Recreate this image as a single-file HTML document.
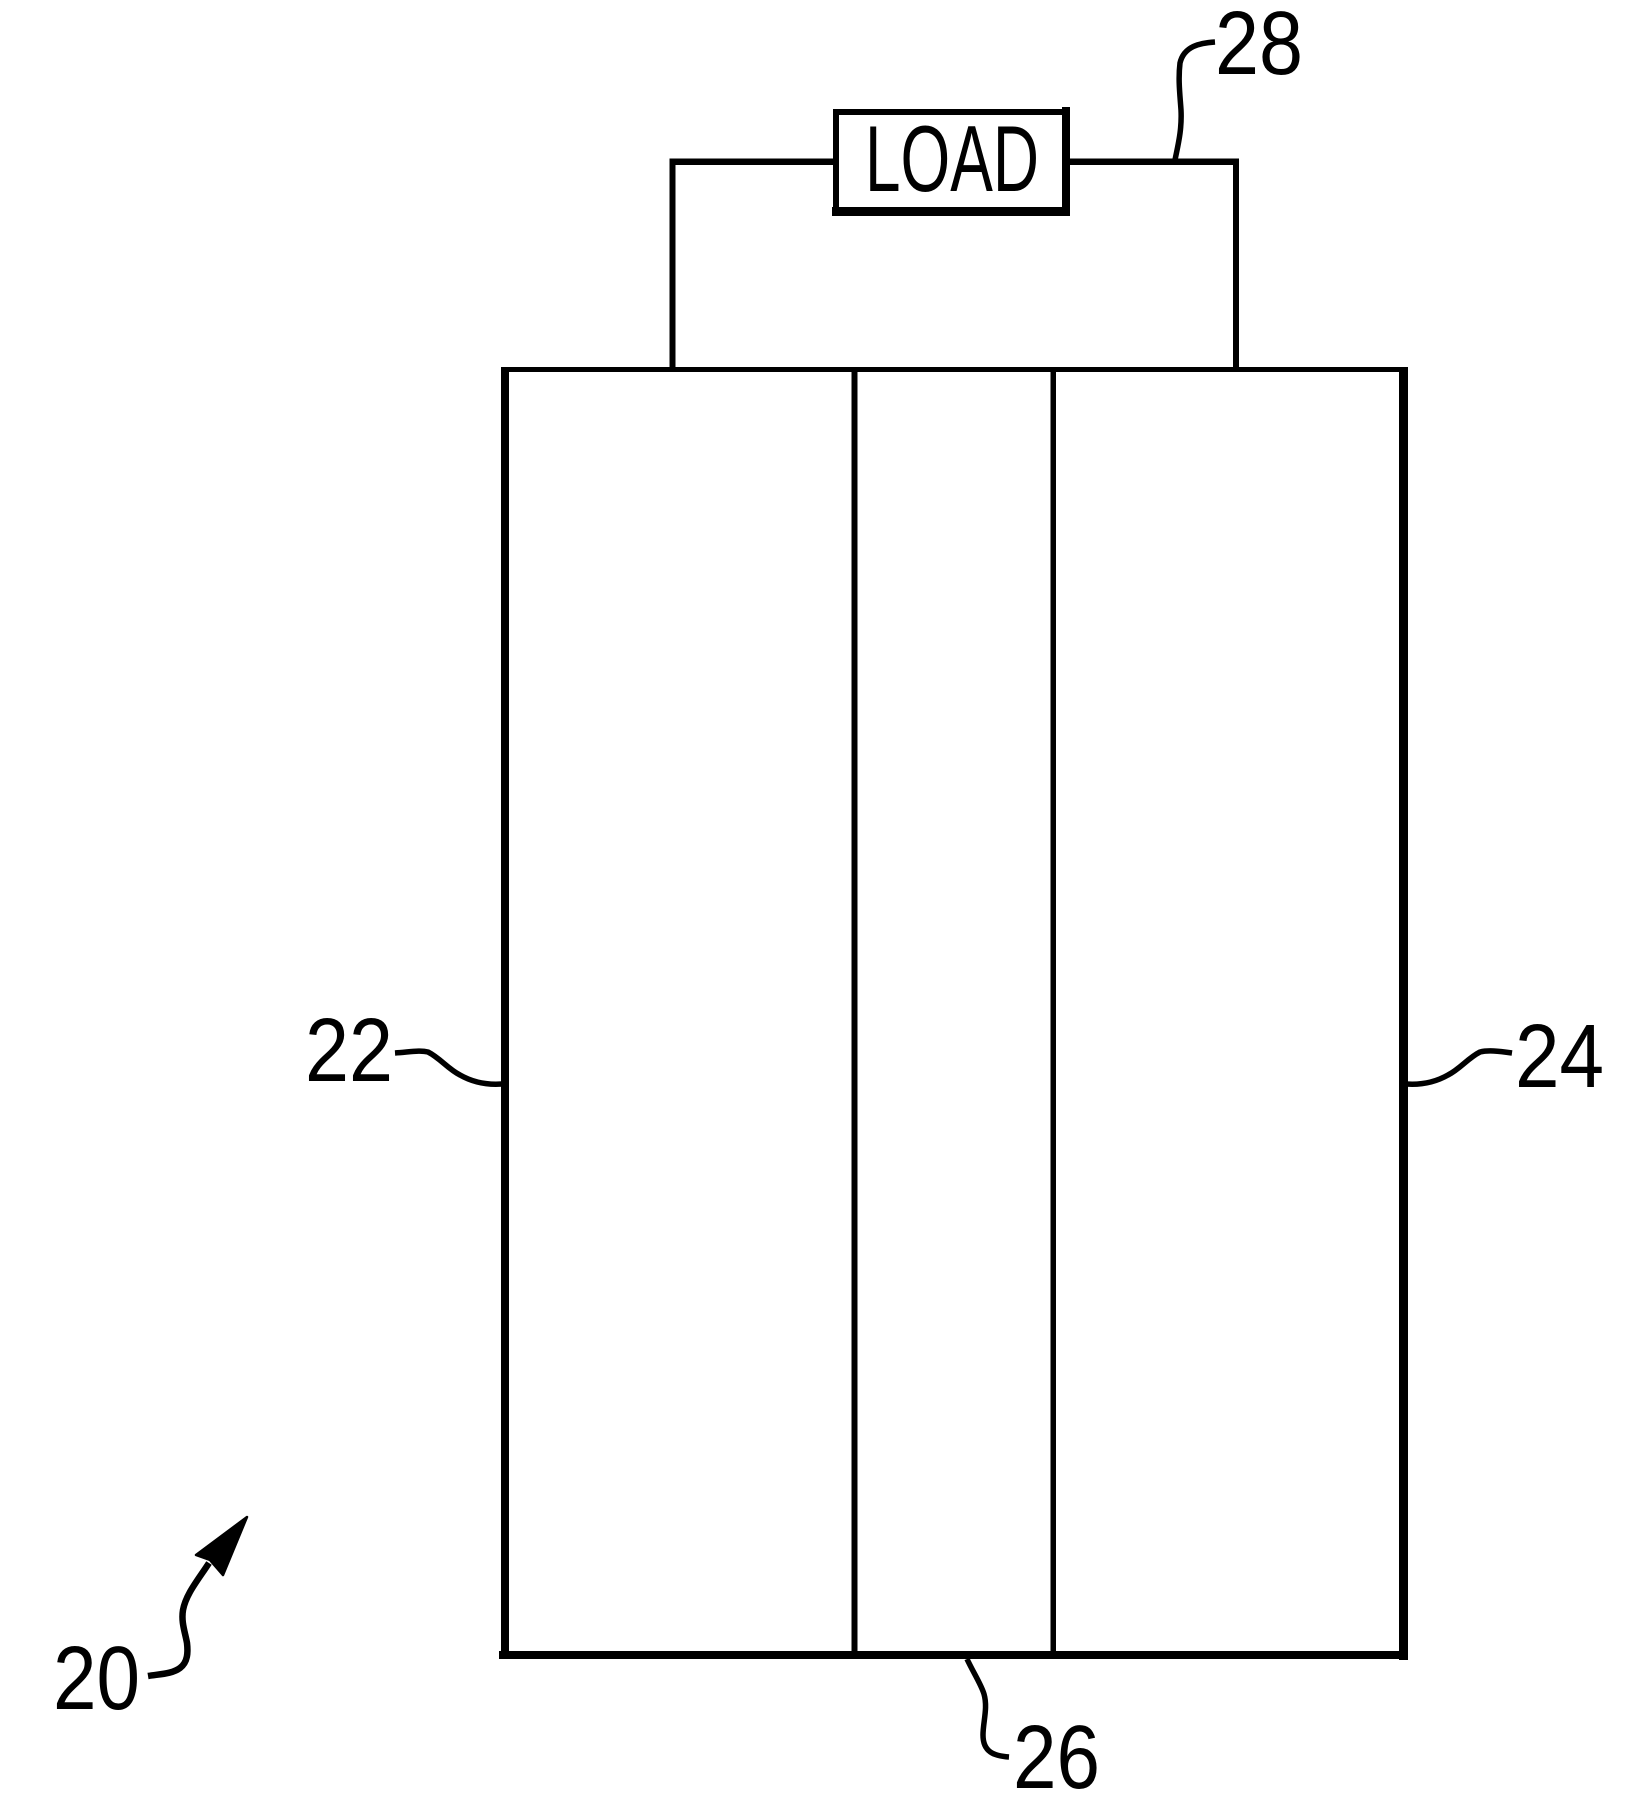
<!DOCTYPE html>
<html><head><meta charset="utf-8"><style>
html,body{margin:0;padding:0;background:#fff}
svg{display:block}
text{font-family:"Liberation Sans",sans-serif;fill:#000}
</style></head><body>
<svg width="1637" height="1795" viewBox="0 0 1637 1795" xmlns="http://www.w3.org/2000/svg">
<rect width="1637" height="1795" fill="#fff"/>
<g fill="#000">
<rect x="501" y="368" width="8" height="1291"/>
<rect x="1399" y="367" width="9" height="1293"/>
<rect x="501" y="367" width="907" height="5"/>
<rect x="499" y="1651" width="909" height="8"/>
<rect x="851.500" y="370" width="6" height="1283"/>
<rect x="1050.500" y="370" width="5.500" height="1283"/>
<rect x="669.500" y="158.500" width="6" height="212"/>
<rect x="1233" y="158.500" width="6" height="212"/>
<rect x="669.500" y="158.500" width="165" height="6.500"/>
<rect x="1067" y="158.500" width="172" height="6.500"/>
<rect x="833" y="109" width="6" height="106"/>
<rect x="1062" y="107" width="8" height="109"/>
<rect x="833" y="109" width="235" height="6"/>
<rect x="832" y="207" width="238" height="9"/>
<path d="M247 1517 L196 1555 L210 1560 L223 1575 Z" stroke="#000" stroke-width="2.500" stroke-linejoin="round"/>
</g>
<g fill="none" stroke="#000" stroke-width="5.500" stroke-linecap="butt" stroke-linejoin="round">
<path d="M1215 42 C1200 43 1184 46 1180 63 C1178 80 1180 95 1181 110 C1182 130 1178 145 1175 160"/>
<path d="M395 1053 C410 1052 420 1050 428 1052 C440 1058 448 1069 460 1075 C474 1083 488 1085 502 1084"/>
<path d="M1512 1053 C1498 1051 1488 1050 1480 1052 C1468 1058 1460 1069 1448 1075 C1434 1083 1420 1085 1406 1084"/>
<path d="M967 1659 C973 1672 981 1684 984 1694 C988 1708 983 1722 983 1735 C983 1752 994 1756 1009 1757"/>
</g>
<path d="M148 1676 C160 1674 172 1674 180 1668 C188 1662 188 1652 187 1643 C185 1632 181 1622 183 1610 C186 1594 198 1580 209 1563" fill="none" stroke="#000" stroke-width="6.500"/>
<text x="865" y="191" font-size="94" textLength="174" lengthAdjust="spacingAndGlyphs">LOAD</text>
<text x="1215" y="74" font-size="90" textLength="88" lengthAdjust="spacingAndGlyphs">28</text>
<text x="53" y="1709" font-size="90" textLength="87" lengthAdjust="spacingAndGlyphs">20</text>
<text x="305" y="1081" font-size="90" textLength="88" lengthAdjust="spacingAndGlyphs">22</text>
<text x="1515" y="1087" font-size="90" textLength="89" lengthAdjust="spacingAndGlyphs">24</text>
<text x="1013" y="1788" font-size="90" textLength="87" lengthAdjust="spacingAndGlyphs">26</text>
</svg>
</body></html>
